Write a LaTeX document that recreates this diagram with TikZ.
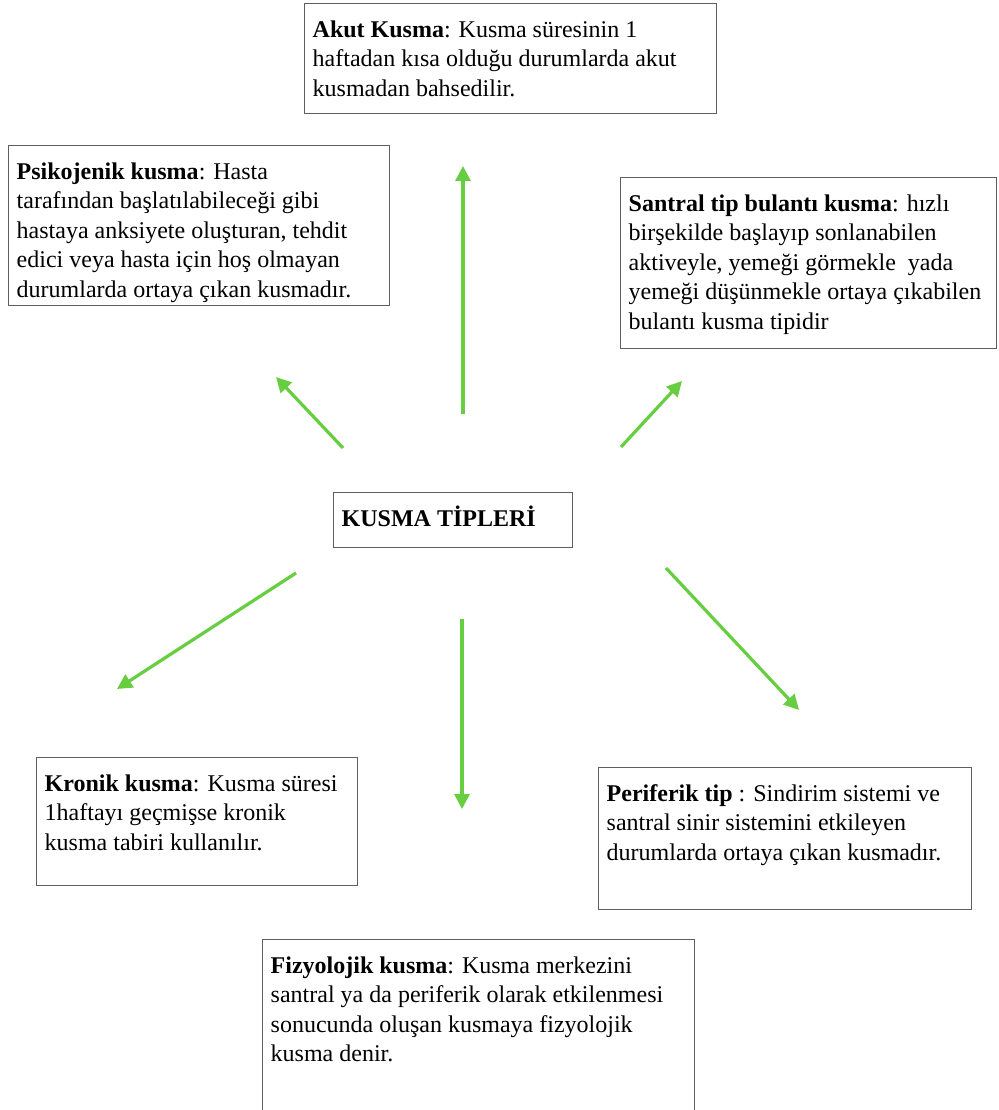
\documentclass[tikz,border=0pt]{standalone}
\usepackage{fontspec}
\setmainfont{Liberation Serif}
\usetikzlibrary{arrows.meta}

\definecolor{arrowgreen}{RGB}{102,206,64}
\definecolor{boxgray}{RGB}{95,95,95}

% text block of a box: width, height, text
\newcommand{\boxtxt}[3]{\parbox[t][#2][t]{#1}{\raggedright\fontsize{24pt}{29.5pt}\selectfont\strut #3}}

\tikzset{
  kbox/.style={draw=boxgray, line width=1.4pt, anchor=north west, inner xsep=8pt, inner ysep=13pt},
  karrow/.style={draw=arrowgreen, line width=3.2pt, -{Triangle[length=15pt,width=15pt]}}
}

\begin{document}
\begin{tikzpicture}[x=1pt, y=-1pt]

\useasboundingbox [fill=white] (0,0) rectangle (998,1110);

\node [kbox] (akut) at (304,3) {\boxtxt{396pt}{84pt}{\textbf{Akut Kusma}: Kusma süresinin 1\\ haftadan kısa olduğu durumlarda akut\\ kusmadan bahsedilir.}};

\node [kbox] (psiko) at (8,145) {\boxtxt{365pt}{134pt}{\textbf{Psikojenik kusma}: Hasta\\ tarafından başlatılabileceği gibi\\ hastaya anksiyete oluşturan, tehdit\\ edici veya hasta için hoş olmayan\\ durumlarda ortaya çıkan kusmadır.}};

\node [kbox] (santral) at (620,177) {\boxtxt{360pt}{145pt}{\textbf{Santral tip bulantı kusma}: hızlı\\ birşekilde başlayıp sonlanabilen\\ aktiveyle, yemeği görmekle\ \ yada\\ yemeği düşünmekle ortaya çıkabilen\\ bulantı kusma tipidir}};

\node [kbox] (tipler) at (333,492) {\boxtxt{223pt}{29pt}{\textbf{KUSMA TİPLERİ}}};

\node [kbox] (kronik) at (36,757) {\boxtxt{305pt}{102pt}{\textbf{Kronik kusma}: Kusma süresi\\ 1haftayı geçmişse kronik\\ kusma tabiri kullanılır.}};

\node [kbox] (periferik) at (598,767) {\boxtxt{357pt}{116pt}{\textbf{Periferik tip} : Sindirim sistemi ve\\ santral sinir sistemini etkileyen\\ durumlarda ortaya çıkan kusmadır.}};

\node [kbox] (fizyo) at (262,939) {\boxtxt{416pt}{200pt}{\textbf{Fizyolojik kusma}: Kusma merkezini\\ santral ya da periferik olarak etkilenmesi\\ sonucunda oluşan kusmaya fizyolojik\\ kusma denir.}};

% arrow ends
\coordinate (upA) at (463,414);
\coordinate (upB) at (463,166);
\coordinate (psA) at (343,448);
\coordinate (psB) at (276,377);
\coordinate (saA) at (621,447);
\coordinate (saB) at (682,381);
\coordinate (krA) at (296,573);
\coordinate (krB) at (117,689);
\coordinate (dnA) at (462,619);
\coordinate (dnB) at (462,809);
\coordinate (peA) at (666,568);
\coordinate (peB) at (799,710);

\draw [karrow] (upA) -- (upB);
\draw [karrow] (psA) -- (psB);
\draw [karrow] (saA) -- (saB);
\draw [karrow] (krA) -- (krB);
\draw [karrow] (dnA) -- (dnB);
\draw [karrow] (peA) -- (peB);

\end{tikzpicture}
\end{document}
